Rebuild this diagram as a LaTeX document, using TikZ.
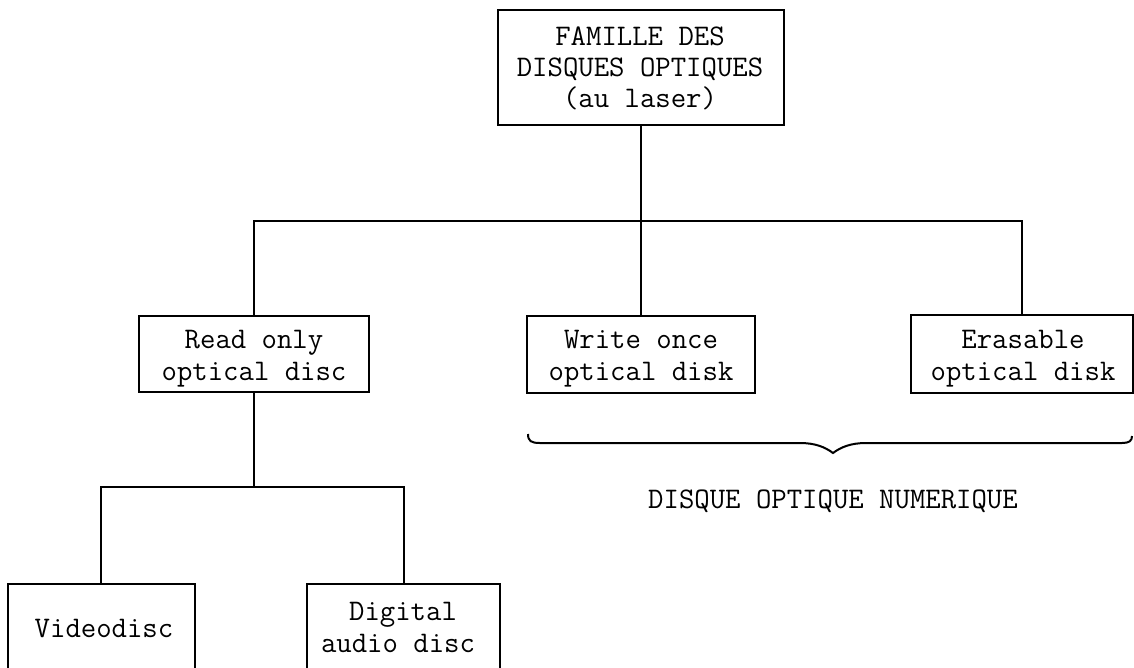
\documentclass[tikz,border=0pt]{standalone}
\usepackage{fontspec}
\begin{document}
\begin{tikzpicture}[x=1pt,y=-1pt,
  box/.style={draw, line width=2pt, inner sep=0pt},
  lbl/.style={font=\fontsize{29.9}{31}\selectfont\ttfamily, anchor=base, inner sep=0pt},
  wire/.style={line width=2pt}]
\useasboundingbox (0,0) rectangle (1134,667);
\clip (0,0) rectangle (1134,667);
% boxes
\node[box, minimum width=286pt, minimum height=115pt] (top) at (641,67.5) {};
\node[box, minimum width=230pt, minimum height=76pt] (ro) at (254,354) {};
\node[box, minimum width=228pt, minimum height=77pt] (wo) at (641,354.5) {};
\node[box, minimum width=222pt, minimum height=78pt] (er) at (1022,354) {};
\node[box, minimum width=187pt, minimum height=88pt] (vd) at (101,628) {};
\node[box, minimum width=193pt, minimum height=88pt] (da) at (403.5,628) {};
% texts
\node[lbl] (t1) at (640,45) {FAMILLE DES};
\node[lbl] (t2) at (640,76) {DISQUES OPTIQUES};
\node[lbl] (t3) at (640,107) {(au laser)};
\node[lbl] (r1) at (254,348) {Read only};
\node[lbl] (r2) at (254,380) {optical disc};
\node[lbl] (w1) at (641,348) {Write once};
\node[lbl] (w2) at (641,380) {optical disk};
\node[lbl] (e1) at (1023,348) {Erasable};
\node[lbl] (e2) at (1023,380) {optical disk};
\node[lbl] (v1) at (104,637) {Videodisc};
\node[lbl] (d1) at (403,620) {Digital};
\node[lbl] (d2) at (398,652) {audio disc};
\node[lbl] (num) at (833,508) {DISQUE OPTIQUE NUMERIQUE};
% connectors
\draw[wire] (top.south) -- (wo.north);
\draw[wire] (ro.north) -- ++(0,-94) coordinate (hl) -| (er.north);
\draw[wire] (ro.south) -- ++(0,94) coordinate (hb);
\draw[wire] (hb) -| (vd.north);
\draw[wire] (hb) -| (da.north);
% brace
\draw[wire] (528,434) .. controls (528,441) and (531,443) .. (540,443)
  -- (800,443) .. controls (815,443) and (825,447) .. (833,453)
  .. controls (841,447) and (851,443) .. (866,443)
  -- (1122,443) .. controls (1129,443) and (1132,441) .. (1132,436);
\end{tikzpicture}
\end{document}
